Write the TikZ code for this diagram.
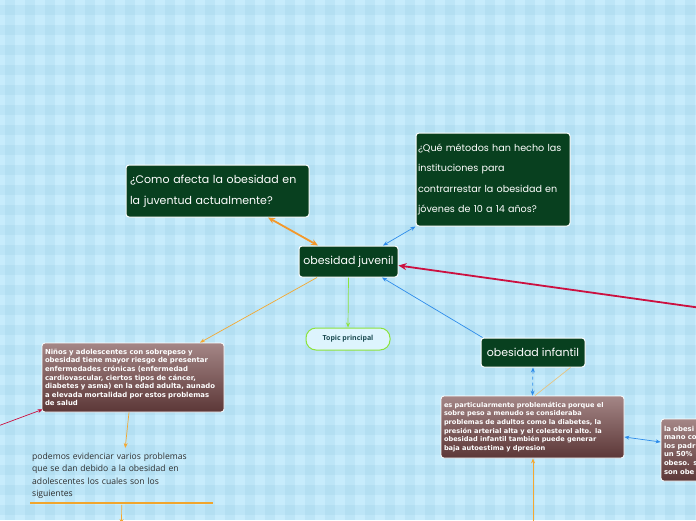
\documentclass[tikz,border=0pt]{standalone}
\usepackage{fontspec}
\usetikzlibrary{arrows.meta}
\newfontfamily\handfont{Poppins}
\newfontfamily\boxfont{DejaVu Sans}
\newfontfamily\plainfont{Open Sans}
\definecolor{bgc}{RGB}{199,236,252}
\definecolor{bandc}{RGB}{120,185,215}
\definecolor{dkgreen}{RGB}{8,64,31}
\definecolor{brtop}{RGB}{164,134,134}
\definecolor{brbot}{RGB}{92,55,55}
\definecolor{orA}{RGB}{243,152,43}
\definecolor{orB}{RGB}{245,168,48}
\definecolor{orBar}{RGB}{240,165,45}
\definecolor{limec}{RGB}{140,228,60}
\definecolor{blueA}{RGB}{45,140,235}
\definecolor{redA}{RGB}{204,16,64}
\definecolor{tanA}{RGB}{232,196,128}
\definecolor{tealtx}{RGB}{26,74,80}
\definecolor{plaintx}{RGB}{45,45,45}
\tikzset{
  gnode/.style={draw=white, line width=1pt, fill=dkgreen, rounded corners=3pt,
    text=white, font=\handfont\fontsize{11}{21}\selectfont, align=left,
    inner xsep=4pt, inner ysep=3pt},
  bnode/.style={draw=white, line width=0.8pt, rounded corners=3pt,
    top color=brtop, bottom color=brbot, text=white,
    font=\boxfont\bfseries\fontsize{6.9}{8.6}\selectfont, align=left,
    inner xsep=3pt, inner ysep=2pt},
  pill/.style={draw=limec, line width=1pt, fill=bgc!60!white, rounded corners=10pt,
    text=tealtx, font=\plainfont\bfseries\fontsize{7}{8}\selectfont},
  conn/.style={line width=0.7pt},
  tip/.style={-{Stealth[length=5pt,width=4pt]}},
  dtip/.style={{Stealth[length=5pt,width=4pt]}-{Stealth[length=5pt,width=4pt]}},
  barline/.style={draw=orBar, line width=2pt},
}
\begin{document}
\begin{tikzpicture}[x=1pt,y=-1pt]
\useasboundingbox (0,0) rectangle (696,520);
\clip (0,0) rectangle (696,520);
% background
\fill[bgc] (0,0) rectangle (696,520);
\foreach \i in {0,...,34} {
  \fill[bandc, opacity=0.13] (\i*20+5,0) rectangle ++(10,520);
}
\foreach \j in {0,...,26} {
  \fill[bandc, opacity=0.13] (0,\j*20+5) rectangle ++(696,10);
}
% nodes
\node[gnode, minimum width=99pt, minimum height=31pt] (juv) at (348.5,261.5) {obesidad juvenil};
\node[gnode, text width=175pt, minimum height=52pt] (como) at (217.5,191)
  {¿Como afecta la obesidad en\\la juventud actualmente?};
\node[gnode, text width=150pt, inner xsep=2pt, minimum height=93pt, font=\handfont\fontsize{9.6}{20.5}\selectfont] (que) at (493,179.5)
  {¿Qué métodos han hecho las\\instituciones para\\contrarrestar la obesidad en\\jóvenes de 10 a 14 años?};
\node[pill, minimum width=84pt, minimum height=22pt] (topic) at (348,339) {Topic principal};
\node[gnode, minimum width=104pt, minimum height=29pt] (inf) at (533,352.5) {obesidad infantil};
\node[bnode, text width=176pt, minimum height=69pt] (ninos) at (133,377.5)
  {Niños y adolescentes con sobrepeso y\\obesidad tiene mayor riesgo de presentar\\enfermedades crónicas (enfermedad\\cardiovascular, ciertos tipos de cáncer,\\diabetes y asma) en la edad adulta, aunado\\a elevada mortalidad por estos problemas\\de salud};
\node[bnode, text width=177pt, minimum height=62pt, font=\boxfont\bfseries\fontsize{6.6}{8.7}\selectfont] (es) at (532.5,427)
  {es particularmente problemática porque el\\sobre peso a menudo se consideraba\\problemas de adultos como la diabetes, la\\presión arterial alta y el colesterol alto. la\\obesidad infantil  también puede generar\\baja autoestima y dpresion};
\node[bnode, text width=92pt, minimum height=62pt] (der) at (710,450)
  {la obesi\\mano co\\los padr\\un 50\%\\obeso. s\\son obe};
\node[anchor=north west, text width=179pt, inner xsep=2pt, inner ysep=0pt, minimum height=55pt,
  font=\plainfont\fontsize{8.6}{12.2}\selectfont, text=plaintx, align=left] (pod) at (30,448)
  {podemos evidenciar varios problemas\\que se dan debido a la obesidad en\\adolescentes los cuales son los\\siguientes};
% free ends
\coordinate (redR) at (700,307.8);
\coordinate (redL) at (-2,426);
\coordinate (botE) at (533,524);
\coordinate (botP) at (121.5,524);
% connectors
\draw[orA, line width=1.8pt, {Stealth[length=7pt,width=6pt]}-{Stealth[length=7pt,width=6pt]}]
  ([xshift=-30.5pt]juv.north) -- ([xshift=50.5pt]como.south);
\draw[blueA, conn, dtip] ([xshift=34.5pt]juv.north) -- (que.south west);
\draw[redA, line width=1.8pt, -{Stealth[length=8pt,width=7pt]}] (redR) -- ([yshift=-4pt]juv.east);
\draw[orB, conn, tip] ([xshift=-31.5pt]juv.south) -- ([xshift=67pt]ninos.north);
\draw[limec, conn, tip] (juv.south) -- (topic.north);
\draw[blueA, conn, tip] ([xshift=2pt]inf.north west) -- ([xshift=33.5pt]juv.south);
\draw[blueA, conn, dashed, dtip] (inf.south) -- (es.north);
\draw[tanA, conn] ([xshift=-15pt]inf.south east) -- ([xshift=2.5pt]es.north);
\draw[blueA, conn, dtip] ([yshift=-10pt]es.east) -- ([yshift=8pt]der.west);
\draw[orB, line width=1pt, tip] (botE) -- ([xshift=0.5pt]es.south);
\draw[orB, conn, tip] ([xshift=-4pt]ninos.south) -- ([xshift=3.5pt]pod.north);
\path[barline] (pod.south west) -- (pod.south east);
\draw[orB, conn, tip] ([yshift=-1.5pt]pod.south) -- (botP);
\draw[redA, conn, tip] (redL) -- ([xshift=1pt,yshift=3pt]ninos.south west);
\end{tikzpicture}
\end{document}
